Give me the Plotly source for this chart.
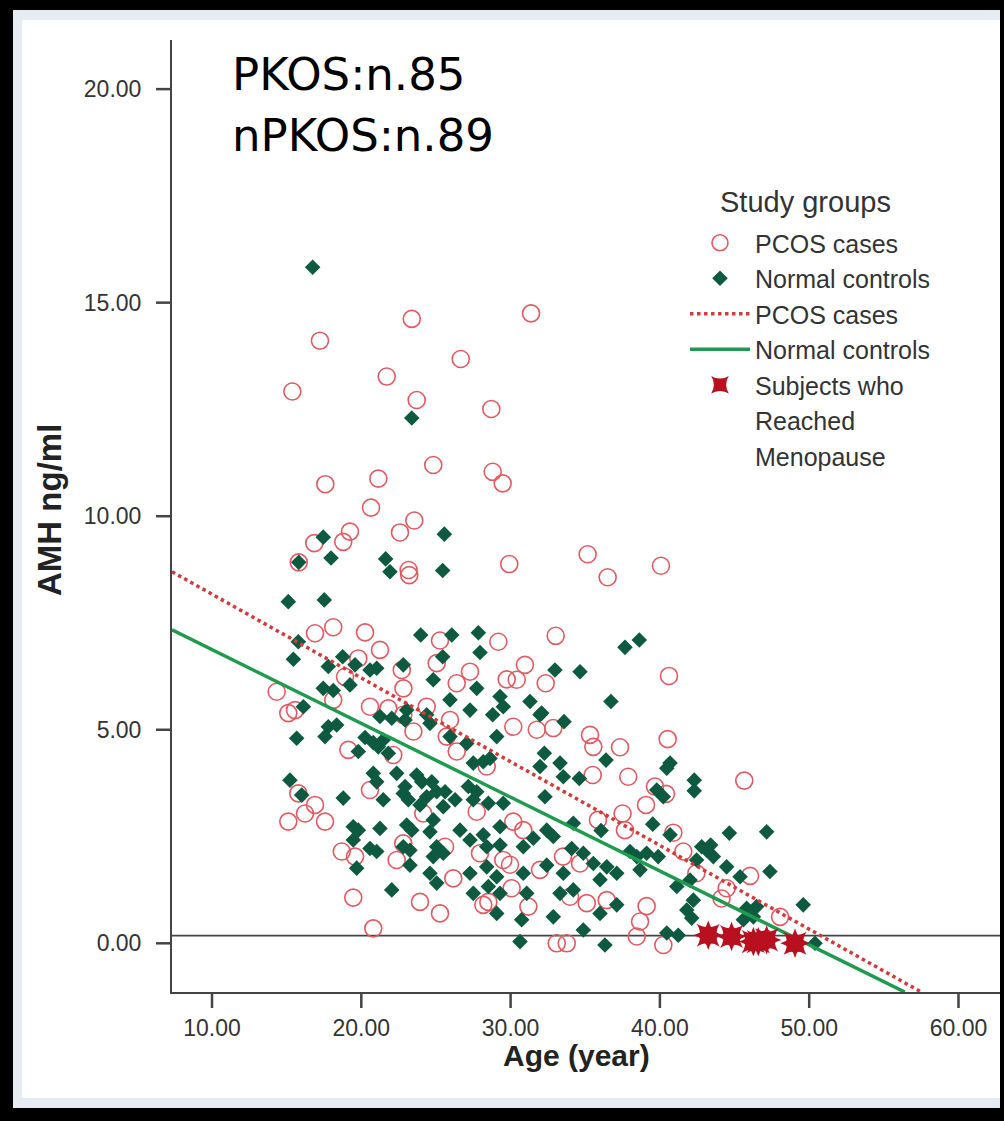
import plotly.graph_objects as go

# ---------------- data ----------------
pcos_age = [31.37, 23.38, 17.23, 26.66, 21.70, 15.38, 23.71, 28.71, 24.82, 28.80,
            29.47, 21.14, 17.59, 20.65, 23.55, 22.59, 19.24, 18.79, 16.85, 15.81,
            23.17, 23.21, 29.91, 35.16, 36.50, 40.07, 33.02, 40.61, 32.35, 32.86,
            35.32, 35.54, 37.33, 40.52, 35.50, 37.88, 39.67, 40.41, 45.65, 39.07,
            37.50, 37.66, 40.90, 41.57, 46.04, 42.44, 48.05, 33.98, 35.10, 36.44,
            39.11, 38.67, 44.13, 33.09, 33.76, 38.45, 40.23, 16.90, 18.12, 20.25,
            21.25, 25.27, 25.05, 29.18, 22.71, 22.82, 19.80, 18.91, 26.39, 27.28,
            29.74, 30.41, 30.96, 14.33, 15.11, 15.56, 18.12, 20.58, 21.81, 22.81,
            24.38, 23.49, 25.94, 25.72, 26.39, 19.13, 22.14, 28.40, 30.18, 31.75,
            15.78, 16.23, 16.90, 17.57, 15.11, 20.58, 27.73, 24.15, 30.18, 30.85,
            18.69, 19.58, 22.81, 22.37, 25.61, 27.95, 29.51, 29.96, 31.97, 26.16,
            30.07, 19.46, 23.93, 25.27, 28.17, 28.51, 31.19, 20.80, 33.51, 34.65,
            35.85, 44.47]
pcos_amh = [14.75, 14.62, 14.11, 13.68, 13.27, 12.92, 12.72, 12.51, 11.20, 11.04,
            10.77, 10.88, 10.75, 10.20, 9.90, 9.62, 9.64, 9.40, 9.37, 8.92,
            8.74, 8.62, 8.88, 9.11, 8.57, 8.84, 7.20, 6.26, 6.09, 5.04,
            4.88, 4.60, 4.59, 4.78, 3.94, 3.90, 3.67, 3.50, 3.81, 3.24,
            3.04, 2.65, 2.59, 2.15, 1.58, 1.64, 0.62, 1.09, 0.94, 1.01,
            0.87, 0.51, 1.05, 0.00, 0.00, 0.16, -0.04, 7.26, 7.40, 7.28,
            6.87, 7.09, 6.56, 7.06, 6.40, 5.97, 6.67, 6.24, 6.09, 6.36,
            6.18, 6.17, 6.52, 5.89, 5.39, 5.46, 5.70, 5.54, 5.50, 5.35,
            5.54, 4.96, 5.23, 4.84, 4.49, 4.53, 4.41, 4.14, 5.07, 5.00,
            3.51, 3.04, 3.24, 2.85, 2.85, 3.59, 3.08, 3.04, 2.85, 2.65,
            2.15, 2.03, 2.34, 1.95, 2.26, 2.11, 1.95, 1.84, 1.72, 1.52,
            1.29, 1.07, 0.97, 0.70, 0.90, 0.97, 0.86, 0.35, 2.03, 1.87,
            2.89, 1.29]

ctrl_age = [16.74, 23.38, 25.56, 17.45, 15.81, 17.97, 21.63, 21.92, 25.45, 15.11,
            17.52, 37.66, 38.62, 32.97, 34.65, 36.72, 33.58, 32.08, 40.68, 40.46,
            42.30, 42.30, 32.26, 36.39, 34.60, 32.30, 39.79, 40.23, 44.65, 47.15,
            39.52, 40.68, 36.06, 34.20, 42.80, 43.40, 47.37, 49.60, 45.81, 46.48,
            32.86, 34.87, 36.32, 40.46, 41.23, 42.13, 50.39, 15.78, 15.45, 18.75,
            17.79, 19.58, 20.58, 21.03, 23.98, 26.06, 27.84, 27.95, 25.45, 22.81,
            24.82, 19.24, 17.45, 18.12, 16.12, 27.73, 29.29, 29.51, 28.80, 25.94,
            27.28, 31.30, 31.97, 17.79, 18.35, 17.57, 15.67, 21.25, 22.04, 23.04,
            22.93, 24.38, 24.60, 20.25, 20.80, 21.47, 21.14, 19.80, 21.81, 25.94,
            27.06, 29.07, 33.31, 33.53, 31.97, 28.17, 27.50, 28.62, 27.17, 27.73,
            20.80, 22.37, 23.71, 24.05, 24.72, 21.03, 21.47, 22.93, 22.81, 23.15,
            23.93, 24.38, 25.05, 25.61, 25.49, 26.28, 27.50, 28.51, 29.51, 15.22,
            16.01, 18.79, 19.46, 19.80, 19.46, 21.25, 23.04, 23.38, 22.81, 23.26,
            20.58, 21.03, 24.82, 24.60, 25.05, 25.49, 24.82, 26.61, 27.28, 28.17,
            28.40, 29.29, 29.29, 30.85, 31.52, 32.42, 32.86, 32.42, 19.69, 23.26,
            24.60, 25.05, 27.28, 27.50, 28.40, 28.51, 29.07, 29.29, 29.07, 30.85,
            31.08, 22.04, 30.74, 30.63, 33.53, 34.09, 34.87, 38.00, 38.45, 38.67,
            35.54, 36.44, 37.11, 35.99, 39.11, 39.89, 41.13, 42.02, 43.13, 43.58,
            42.46, 44.47, 45.37, 42.24, 41.80, 35.99, 37.11, 45.59, 46.26, 33.31,
            34.20]
ctrl_amh = [15.83, 12.30, 9.58, 9.51, 8.92, 9.02, 9.00, 8.70, 8.73, 8.00,
            8.04, 6.93, 7.10, 6.40, 6.36, 5.66, 5.19, 5.39, 4.22, 4.10,
            3.82, 3.57, 4.45, 4.29, 3.86, 3.43, 3.59, 3.43, 2.58, 2.61,
            2.79, 2.54, 2.64, 2.81, 2.26, 2.30, 1.68, 0.90, 0.82, 0.86,
            0.62, 0.31, -0.04, 0.24, 0.19, 0.59, 0.00, 7.06, 6.65, 6.71,
            6.48, 6.52, 6.40, 6.44, 7.22, 7.22, 7.27, 6.81, 6.71, 6.52,
            6.17, 6.05, 5.97, 5.92, 5.54, 5.97, 5.78, 5.54, 5.35, 5.70,
            5.46, 5.66, 5.35, 5.07, 5.11, 4.84, 4.80, 5.31, 5.27, 5.46,
            5.23, 5.35, 5.15, 4.82, 4.70, 4.76, 4.60, 4.49, 4.45, 4.84,
            4.68, 4.84, 4.22, 3.90, 4.14, 4.25, 4.22, 4.33, 3.67, 3.55,
            3.98, 3.98, 3.94, 3.78, 3.78, 3.78, 3.36, 3.67, 3.51, 3.36,
            3.24, 3.43, 3.55, 3.55, 3.20, 3.36, 3.36, 3.28, 3.28, 3.82,
            3.47, 3.40, 2.73, 2.65, 2.42, 2.69, 2.77, 2.65, 2.26, 2.18,
            2.22, 2.15, 2.89, 2.61, 2.26, 2.11, 2.03, 2.65, 2.42, 2.54,
            2.26, 2.73, 2.30, 2.26, 2.46, 2.65, 2.50, 1.83, 1.76, 1.83,
            1.64, 1.41, 1.64, 1.17, 1.79, 1.33, 1.56, 1.17, 0.70, 1.64,
            1.17, 1.25, 0.55, 0.04, 1.64, 2.22, 2.11, 2.15, 2.03, 1.72,
            1.87, 1.79, 1.64, 1.49, 2.11, 2.03, 1.33, 1.48, 2.18, 2.03,
            1.95, 1.79, 1.56, 1.01, 0.78, 0.70, 0.90, 0.55, 0.62, 1.17,
            1.25]

meno_age = [43.24, 44.80, 46.26, 46.59, 47.15, 49.05]
meno_amh = [0.19, 0.16, 0.04, 0.04, 0.08, 0.00]

# fitted regression lines (end points)
fit_pcos_x = [7.32, 57.5]
fit_pcos_y = [8.70, -1.14]
fit_ctrl_x = [7.32, 56.4]
fit_ctrl_y = [7.34, -1.14]

ref_line_y = 0.18

x_ticks = [10, 20, 30, 40, 50, 60]
y_ticks = [0, 5, 10, 15, 20]
x_range = [7.32, 62.78]
y_range = [-1.14, 21.15]

legend_labels = ["PCOS cases", "Normal controls", "PCOS cases", "Normal controls",
                 "Subjects who", "Reached", "Menopause"]

# ---------------- figure ----------------
W, H = 1004, 1121
ML, MR, MT, MB = 172, 4, 40, 129
PW, PH = W - ML - MR, H - MT - MB

def px(xp):
    return (xp - ML) / PW

def py(yp):
    return (H - MB - yp) / PH

SANS = "Liberation Sans, Arial, sans-serif"
TICK_LEN = 16
fig = go.Figure()

fig.add_trace(go.Scatter(
    x=pcos_age, y=pcos_amh, mode="markers", name=legend_labels[0],
    marker=dict(symbol="circle-open", size=17, color="#e05a62", line=dict(width=1.6)),
))
fig.add_trace(go.Scatter(
    x=ctrl_age, y=ctrl_amh, mode="markers", name=legend_labels[1],
    marker=dict(symbol="diamond", size=12, color="#0e5a40"),
))
fig.add_trace(go.Scatter(
    x=fit_pcos_x, y=fit_pcos_y, mode="lines", name=legend_labels[2],
    line=dict(color="#d33a3a", width=3.5, dash="dot"),
))
fig.add_trace(go.Scatter(
    x=fit_ctrl_x, y=fit_ctrl_y, mode="lines", name=legend_labels[3],
    line=dict(color="#1f9a4e", width=3.5),
))
fig.add_trace(go.Scatter(
    x=meno_age, y=meno_amh, mode="markers", name=legend_labels[4],
    marker=dict(symbol="star-square", size=21, color="#b8101e"),
))
fig.add_trace(go.Scatter(
    x=meno_age, y=meno_amh, mode="markers", showlegend=False,
    marker=dict(symbol="star-diamond", size=21, color="#b8101e"),
))
# continuation lines of the last legend label (invisible marker)
for lab in legend_labels[5:]:
    fig.add_trace(go.Scatter(
        x=meno_age[:1], y=meno_amh[:1], mode="markers", name=lab, hoverinfo="skip",
        marker=dict(size=1, opacity=0, color="rgba(0,0,0,0)"),
    ))

axis_font = dict(family=SANS, size=23, color="#333333")

# tick lengths here only position the labels; visible ticks are drawn as shapes below
fig.update_xaxes(
    range=x_range, tickvals=x_ticks, tickformat=".2f",
    showgrid=False, zeroline=False, showline=True, linecolor="#444444", linewidth=2,
    ticks="outside", ticklen=14, tickwidth=1, tickcolor="rgba(0,0,0,0)",
    tickfont=axis_font,
)
fig.update_yaxes(
    range=y_range, tickvals=y_ticks, tickformat=".2f",
    showgrid=False, zeroline=False, showline=True, linecolor="#444444", linewidth=2,
    ticks="outside", ticklen=24, tickwidth=1, tickcolor="rgba(0,0,0,0)",
    tickfont=axis_font,
)

shapes = [
    dict(type="rect", xref="paper", yref="paper", x0=px(13), x1=px(1000), y0=py(1108), y1=py(10),
         fillcolor="#e6ecf4", line=dict(width=0), layer="below"),
    dict(type="rect", xref="paper", yref="paper", x0=px(22), x1=px(1000), y0=py(1098), y1=py(20),
         fillcolor="white", line=dict(width=0), layer="below"),
    dict(type="line", xref="paper", yref="y", x0=0, x1=1, y0=ref_line_y, y1=ref_line_y,
         line=dict(color="#444444", width=1.8), layer="below"),
]
# tick marks (paper coordinates derived from the axis ranges, so they are not clipped)
for t in x_ticks:
    xf = (t - x_range[0]) / (x_range[1] - x_range[0])
    shapes.append(dict(type="line", xref="paper", yref="paper", x0=xf, x1=xf, y0=0, y1=-TICK_LEN / PH,
                       line=dict(color="#444444", width=2.5), layer="above"))
for t in y_ticks:
    yf = (t - y_range[0]) / (y_range[1] - y_range[0])
    shapes.append(dict(type="line", xref="paper", yref="paper", x0=0, x1=-TICK_LEN / PW, y0=yf, y1=yf,
                       line=dict(color="#444444", width=2.5), layer="above"))

annotations = [
    dict(text="PKOS:n.85", x=px(230), y=py(75), xref="paper", yref="paper",
         xanchor="left", yanchor="middle", showarrow=False,
         font=dict(family="DejaVu Sans", size=45, color="black")),
    dict(text="nPKOS:n.89", x=px(230), y=py(136), xref="paper", yref="paper",
         xanchor="left", yanchor="middle", showarrow=False,
         font=dict(family="DejaVu Sans", size=45, color="black")),
    dict(text="<b>Age (year)</b>", x=px(576), y=py(1055), xref="paper", yref="paper",
         xanchor="center", yanchor="middle", showarrow=False,
         font=dict(family=SANS, size=30, color="#222222")),
    dict(text="<b>AMH ng/ml</b>", x=px(49), y=py(510), xref="paper", yref="paper",
         xanchor="center", yanchor="middle", showarrow=False, textangle=-90,
         font=dict(family=SANS, size=33, color="#222222")),
    dict(text="Study groups", x=px(805), y=py(202), xref="paper", yref="paper",
         xanchor="center", yanchor="middle", showarrow=False,
         font=dict(family=SANS, size=29, color="#333333")),
]

fig.update_layout(
    width=W, height=H,
    margin=dict(l=ML, r=MR, t=MT, b=MB, pad=0),
    paper_bgcolor="black", plot_bgcolor="rgba(0,0,0,0)",
    shapes=shapes, annotations=annotations,
    legend=dict(
        x=px(685), y=py(220), xanchor="left", yanchor="top",
        bgcolor="rgba(0,0,0,0)",
        font=dict(family=SANS, size=25, color="#333333"),
        itemwidth=60,
    ),
    showlegend=True,
)

fig.write_html("out.html")
